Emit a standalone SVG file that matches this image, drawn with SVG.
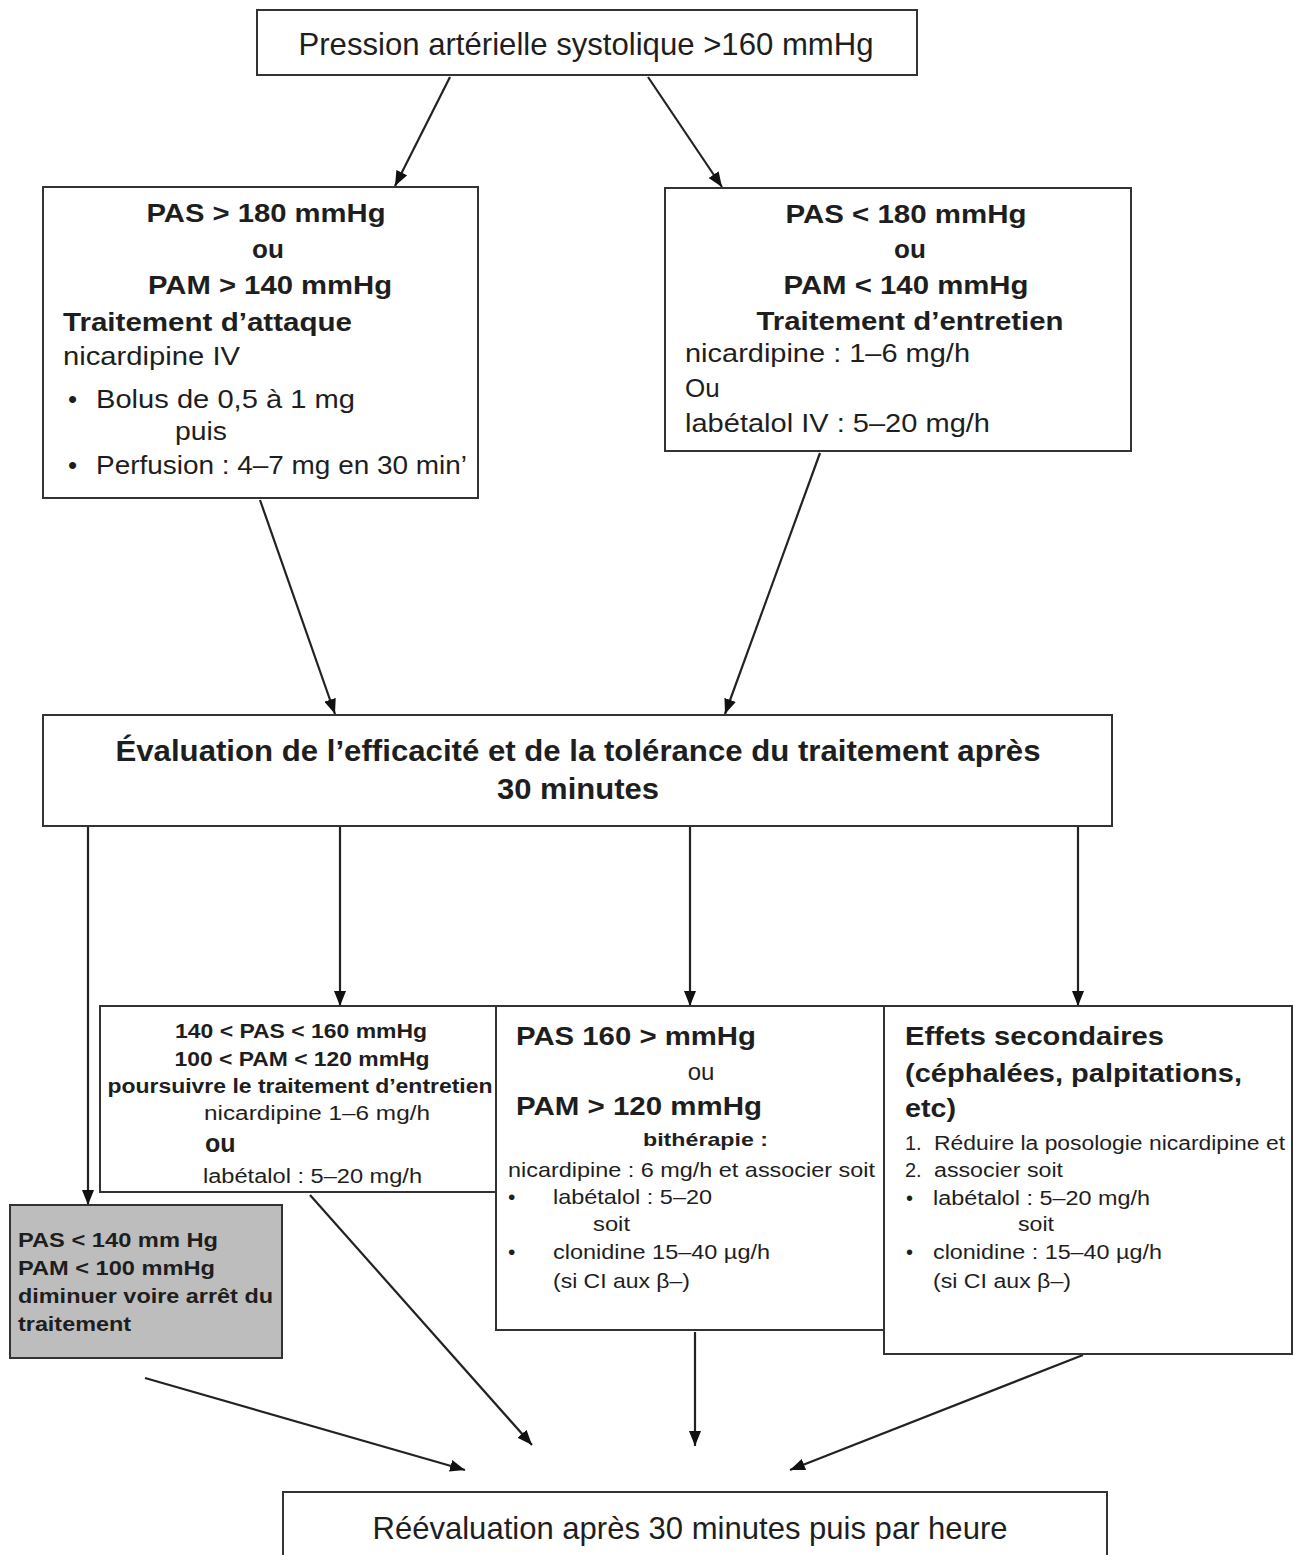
<svg xmlns="http://www.w3.org/2000/svg" width="1293" height="1555" viewBox="0 0 1293 1555">
<style>
.box{fill:#fff;stroke:#333;stroke-width:2}
.grey{fill:#bdbdbd;stroke:#333;stroke-width:2}
text{font-family:"Liberation Sans",Arial,sans-serif;fill:#1e1e1e}
.b{font-weight:bold}
.c{text-anchor:middle}
.conn{stroke:#222;stroke-width:2.2;fill:none}
</style>
<defs>
<marker id="ah" viewBox="0 0 15 12" refX="15" refY="6" markerWidth="15" markerHeight="12" markerUnits="userSpaceOnUse" orient="auto">
<path d="M0,0 L15,6 L0,12 Z" fill="#111"/>
</marker>
</defs>
<rect width="1293" height="1555" fill="#fff"/>

<g id="connectors">
<line class="conn" x1="450" y1="77" x2="395" y2="186" marker-end="url(#ah)"/>
<line class="conn" x1="648" y1="77" x2="722" y2="187" marker-end="url(#ah)"/>
<line class="conn" x1="260" y1="500" x2="335" y2="714" marker-end="url(#ah)"/>
<line class="conn" x1="820" y1="453" x2="725" y2="714" marker-end="url(#ah)"/>
<line class="conn" x1="88" y1="826" x2="88" y2="1205" marker-end="url(#ah)"/>
<line class="conn" x1="340" y1="826" x2="340" y2="1006" marker-end="url(#ah)"/>
<line class="conn" x1="690" y1="826" x2="690" y2="1006" marker-end="url(#ah)"/>
<line class="conn" x1="1078" y1="826" x2="1078" y2="1006" marker-end="url(#ah)"/>
<line class="conn" x1="145" y1="1378" x2="465" y2="1470" marker-end="url(#ah)"/>
<line class="conn" x1="310" y1="1195" x2="532" y2="1445" marker-end="url(#ah)"/>
<line class="conn" x1="695" y1="1332" x2="695" y2="1446" marker-end="url(#ah)"/>
<line class="conn" x1="1083" y1="1355" x2="790" y2="1470" marker-end="url(#ah)"/>
</g>

<g id="n-top">
<rect class="box" x="257" y="10" width="660" height="65"/>
<text class="c" x="586" y="55" font-size="32" textLength="575" lengthAdjust="spacingAndGlyphs">Pression artérielle systolique &gt;160 mmHg</text>
</g>

<g id="n-attaque">
<rect class="box" x="43" y="187" width="435" height="311"/>
<text class="b c" x="266" y="222" font-size="26" textLength="239" lengthAdjust="spacingAndGlyphs">PAS &gt; 180 mmHg</text>
<text class="b c" x="268" y="258" font-size="26">ou</text>
<text class="b c" x="270" y="294" font-size="26" textLength="244" lengthAdjust="spacingAndGlyphs">PAM &gt; 140 mmHg</text>
<text class="b" x="63" y="331" font-size="26" textLength="289" lengthAdjust="spacingAndGlyphs">Traitement d’attaque</text>
<text x="63" y="365" font-size="26" textLength="177" lengthAdjust="spacingAndGlyphs">nicardipine IV</text>
<text x="68" y="408" font-size="26">•</text>
<text x="96" y="408" font-size="26" textLength="259" lengthAdjust="spacingAndGlyphs">Bolus de 0,5 à 1 mg</text>
<text x="175" y="440" font-size="26" textLength="52" lengthAdjust="spacingAndGlyphs">puis</text>
<text x="68" y="474" font-size="26">•</text>
<text x="96" y="474" font-size="26" textLength="371" lengthAdjust="spacingAndGlyphs">Perfusion : 4–7 mg en 30 min’</text>
</g>

<g id="n-entretien">
<rect class="box" x="665" y="188" width="466" height="263"/>
<text class="b c" x="906" y="223" font-size="26" textLength="241" lengthAdjust="spacingAndGlyphs">PAS &lt; 180 mmHg</text>
<text class="b c" x="910" y="258" font-size="26">ou</text>
<text class="b c" x="906" y="294" font-size="26" textLength="245" lengthAdjust="spacingAndGlyphs">PAM &lt; 140 mmHg</text>
<text class="b c" x="910" y="330" font-size="26" textLength="307" lengthAdjust="spacingAndGlyphs">Traitement d’entretien</text>
<text x="685" y="362" font-size="26" textLength="285" lengthAdjust="spacingAndGlyphs">nicardipine : 1–6 mg/h</text>
<text x="685" y="397" font-size="26">Ou</text>
<text x="685" y="432" font-size="26" textLength="305" lengthAdjust="spacingAndGlyphs">labétalol IV : 5–20 mg/h</text>
</g>

<g id="n-evaluation">
<rect class="box" x="43" y="715" width="1069" height="111"/>
<text class="b c" x="578" y="761" font-size="29" textLength="925" lengthAdjust="spacingAndGlyphs">Évaluation de l’efficacité et de la tolérance du traitement après</text>
<text class="b c" x="578" y="799" font-size="29" textLength="162" lengthAdjust="spacingAndGlyphs">30 minutes</text>
</g>

<g id="n-poursuivre">
<rect class="box" x="100" y="1006" width="397" height="186"/>
<text class="b c" x="301" y="1038" font-size="20" textLength="252" lengthAdjust="spacingAndGlyphs">140 &lt; PAS &lt; 160 mmHg</text>
<text class="b c" x="302" y="1066" font-size="20" textLength="255" lengthAdjust="spacingAndGlyphs">100 &lt; PAM &lt; 120 mmHg</text>
<text class="b c" x="300" y="1093" font-size="20" textLength="385" lengthAdjust="spacingAndGlyphs">poursuivre le traitement d’entretien</text>
<text x="204" y="1120" font-size="20" textLength="226" lengthAdjust="spacingAndGlyphs">nicardipine  1–6 mg/h</text>
<text class="b" x="205" y="1152" font-size="25">ou</text>
<text x="203" y="1183" font-size="20" textLength="219" lengthAdjust="spacingAndGlyphs">labétalol : 5–20 mg/h</text>
</g>

<g id="n-bitherapie">
<rect class="box" x="496" y="1006" width="389" height="324"/>
<text class="b" x="516" y="1045" font-size="26" textLength="240" lengthAdjust="spacingAndGlyphs">PAS 160 &gt; mmHg</text>
<text class="c" x="701" y="1080" font-size="24">ou</text>
<text class="b" x="516" y="1115" font-size="26" textLength="246" lengthAdjust="spacingAndGlyphs">PAM &gt; 120 mmHg</text>
<text class="b" x="643" y="1146" font-size="19" textLength="125" lengthAdjust="spacingAndGlyphs">bithérapie :</text>
<text x="508" y="1177" font-size="21" textLength="367" lengthAdjust="spacingAndGlyphs">nicardipine : 6 mg/h et associer soit</text>
<text x="508" y="1204" font-size="21">•</text>
<text x="553" y="1204" font-size="21" textLength="159" lengthAdjust="spacingAndGlyphs">labétalol : 5–20</text>
<text x="593" y="1231" font-size="21" textLength="37" lengthAdjust="spacingAndGlyphs">soit</text>
<text x="508" y="1259" font-size="21">•</text>
<text x="553" y="1259" font-size="21" textLength="217" lengthAdjust="spacingAndGlyphs">clonidine 15–40 µg/h</text>
<text x="553" y="1288" font-size="21" textLength="137" lengthAdjust="spacingAndGlyphs">(si CI aux β–)</text>
</g>

<g id="n-effets">
<rect class="box" x="884" y="1006" width="408" height="348"/>
<text class="b" x="905" y="1045" font-size="26" textLength="259" lengthAdjust="spacingAndGlyphs">Effets secondaires</text>
<text class="b" x="905" y="1082" font-size="26" textLength="337" lengthAdjust="spacingAndGlyphs">(céphalées, palpitations,</text>
<text class="b" x="905" y="1117" font-size="26" textLength="51" lengthAdjust="spacingAndGlyphs">etc)</text>
<text x="905" y="1150" font-size="20">1.</text>
<text x="934" y="1150" font-size="20" textLength="351" lengthAdjust="spacingAndGlyphs">Réduire la posologie nicardipine et</text>
<text x="905" y="1177" font-size="20">2.</text>
<text x="934" y="1177" font-size="20" textLength="129" lengthAdjust="spacingAndGlyphs">associer soit</text>
<text x="906" y="1205" font-size="20">•</text>
<text x="933" y="1205" font-size="20" textLength="217" lengthAdjust="spacingAndGlyphs">labétalol : 5–20 mg/h</text>
<text x="1018" y="1231" font-size="20" textLength="36" lengthAdjust="spacingAndGlyphs">soit</text>
<text x="906" y="1259" font-size="20">•</text>
<text x="933" y="1259" font-size="20" textLength="229" lengthAdjust="spacingAndGlyphs">clonidine : 15–40 µg/h</text>
<text x="933" y="1288" font-size="20" textLength="138" lengthAdjust="spacingAndGlyphs">(si CI aux β–)</text>
</g>

<g id="n-diminuer">
<rect class="grey" x="10" y="1205" width="272" height="153"/>
<text class="b" x="18" y="1247" font-size="20" textLength="200" lengthAdjust="spacingAndGlyphs">PAS &lt; 140 mm Hg</text>
<text class="b" x="18" y="1275" font-size="20" textLength="197" lengthAdjust="spacingAndGlyphs">PAM &lt; 100 mmHg</text>
<text class="b" x="18" y="1303" font-size="20" textLength="255" lengthAdjust="spacingAndGlyphs">diminuer voire arrêt du</text>
<text class="b" x="18" y="1331" font-size="20" textLength="113" lengthAdjust="spacingAndGlyphs">traitement</text>
</g>

<g id="n-reevaluation">
<rect class="box" x="283" y="1492" width="824" height="75"/>
<text class="c" x="690" y="1539" font-size="32" textLength="635" lengthAdjust="spacingAndGlyphs">Réévaluation après 30 minutes puis par heure</text>
</g>
</svg>
